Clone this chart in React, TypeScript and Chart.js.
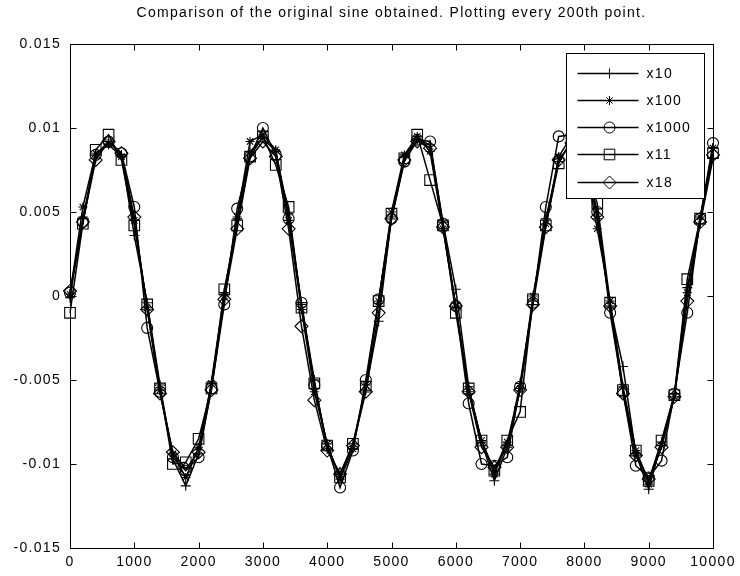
import React, { useEffect, useRef } from "react";
import { Chart, registerables } from "chart.js";

Chart.register(...registerables);

const TITLE = "Comparison of the original sine obtained. Plotting every 200th point.";

const X_VALUES = [
  0, 200, 400, 600, 800, 1000, 1200, 1400, 1600, 1800,
  2000, 2200, 2400, 2600, 2800, 3000, 3200, 3400, 3600, 3800,
  4000, 4200, 4400, 4600, 4800, 5000, 5200, 5400, 5600, 5800,
  6000, 6200, 6400, 6600, 6800, 7000, 7200, 7400, 7600, 7800,
  8000, 8200, 8400, 8600, 8800, 9000, 9200, 9400, 9600, 9800,
  10000,
];

const SERIES_NAMES = ["x10", "x100", "x1000", "x11", "x18"];
const POINT_STYLES = ["cross", "star", "circle", "rect", "rectRot"];
const POINT_RADII = [5, 4.5, 5.5, 7.5, 6.5];

const X10 = [
  -0.0001, 0.0047, 0.0082, 0.0092, 0.0084, 0.0036, -0.0004, -0.0053, -0.0097, -0.0113,
  -0.0094, -0.0051, 0.0002, 0.0046, 0.0086, 0.0094, 0.0086, 0.0049, -0.0005, -0.0050,
  -0.0091, -0.0106, -0.0088, -0.0056, -0.0015, 0.0047, 0.0083, 0.0093, 0.0090, 0.0044,
  0.0004, -0.0054, -0.0087, -0.0110, -0.0090, -0.0052, -0.0003, 0.0046, 0.0080, 0.0092,
  0.0085, 0.0046, -0.0006, -0.0042, -0.0094, -0.0115, -0.0087, -0.0058, 0.0005, 0.0043,
  0.0082,
];

const X100 = [
  0.0001, 0.0053, 0.0085, 0.0090, 0.0083, 0.0045, -0.0007, -0.0056, -0.0094, -0.0108,
  -0.0090, -0.0052, 0.0000, 0.0047, 0.0092, 0.0096, 0.0087, 0.0045, -0.0008, -0.0057,
  -0.0088, -0.0109, -0.0091, -0.0053, -0.0003, 0.0050, 0.0084, 0.0095, 0.0086, 0.0040,
  -0.0006, -0.0057, -0.0086, -0.0106, -0.0087, -0.0055, 0.0000, 0.0043, 0.0083, 0.0095,
  0.0082, 0.0040, -0.0003, -0.0054, -0.0092, -0.0112, -0.0089, -0.0060, 0.0002, 0.0047,
  0.0088,
];

const X1000 = [
  0.0002, 0.0044, 0.0084, 0.0092, 0.0085, 0.0053, -0.0019, -0.0057, -0.0096, -0.0104,
  -0.0096, -0.0055, -0.0005, 0.0052, 0.0083, 0.0100, 0.0084, 0.0046, -0.0004, -0.0053,
  -0.0089, -0.0114, -0.0092, -0.0050, -0.0002, 0.0046, 0.0080, 0.0093, 0.0092, 0.0043,
  -0.0006, -0.0064, -0.0100, -0.0101, -0.0096, -0.0054, -0.0004, 0.0053, 0.0095, 0.0096,
  0.0084, 0.0050, -0.0010, -0.0057, -0.0101, -0.0108, -0.0098, -0.0058, -0.0010, 0.0046,
  0.0091,
];

const X11 = [
  -0.0010, 0.0043, 0.0087, 0.0096, 0.0081, 0.0042, -0.0005, -0.0055, -0.0100, -0.0099,
  -0.0085, -0.0055, 0.0004, 0.0042, 0.0083, 0.0095, 0.0078, 0.0053, -0.0007, -0.0052,
  -0.0089, -0.0108, -0.0088, -0.0054, -0.0003, 0.0049, 0.0082, 0.0096, 0.0069, 0.0042,
  -0.0010, -0.0055, -0.0086, -0.0104, -0.0086, -0.0069, -0.0002, 0.0042, 0.0079, 0.0093,
  0.0082, 0.0055, -0.0004, -0.0056, -0.0092, -0.0110, -0.0086, -0.0059, 0.0010, 0.0046,
  0.0085,
];

const X18 = [
  0.0003, 0.0044, 0.0081, 0.0092, 0.0085, 0.0047, -0.0008, -0.0058, -0.0093, -0.0103,
  -0.0093, -0.0056, -0.0002, 0.0040, 0.0082, 0.0092, 0.0083, 0.0040, -0.0018, -0.0062,
  -0.0092, -0.0106, -0.0089, -0.0057, -0.0010, 0.0046, 0.0081, 0.0092, 0.0088, 0.0041,
  -0.0006, -0.0057, -0.0090, -0.0102, -0.0090, -0.0056, -0.0005, 0.0041, 0.0081, 0.0091,
  0.0083, 0.0047, -0.0006, -0.0058, -0.0095, -0.0109, -0.0090, -0.0060, -0.0003, 0.0044,
  0.0084,
];

const SERIES_VALUES = [X10, X100, X1000, X11, X18];

const X_TICKS = [0, 1000, 2000, 3000, 4000, 5000, 6000, 7000, 8000, 9000, 10000];
const X_TICK_LABELS = ["0", "1000", "2000", "3000", "4000", "5000", "6000", "7000", "8000", "9000", "10000"];
const Y_TICKS = [-0.015, -0.01, -0.005, 0, 0.005, 0.01, 0.015];
const Y_TICK_LABELS = ["-0.015", "-0.01", "-0.005", "0", "0.005", "0.01", "0.015"];

const FONT_FAMILY = "'Liberation Sans', Arial, Helvetica, sans-serif";
const FONT_SIZE = 14;
const LETTER_SPACING = "1.3px";
const TICK_LEN = 6;

function drawMarker(ctx: CanvasRenderingContext2D, style: string, r: number, x: number, y: number) {
  ctx.beginPath();
  if (style === "cross") {
    ctx.moveTo(x - r, y); ctx.lineTo(x + r, y);
    ctx.moveTo(x, y - r); ctx.lineTo(x, y + r);
  } else if (style === "star") {
    const d = r * Math.SQRT1_2;
    ctx.moveTo(x - r, y); ctx.lineTo(x + r, y);
    ctx.moveTo(x, y - r); ctx.lineTo(x, y + r);
    ctx.moveTo(x - d, y - d); ctx.lineTo(x + d, y + d);
    ctx.moveTo(x - d, y + d); ctx.lineTo(x + d, y - d);
  } else if (style === "circle") {
    ctx.arc(x, y, r, 0, Math.PI * 2);
  } else if (style === "rect") {
    const s = r * Math.SQRT1_2;
    ctx.rect(x - s, y - s, 2 * s, 2 * s);
  } else if (style === "rectRot") {
    ctx.moveTo(x, y - r); ctx.lineTo(x + r, y); ctx.lineTo(x, y + r); ctx.lineTo(x - r, y); ctx.closePath();
  }
  ctx.stroke();
}

const framePlugin = {
  id: "matlabFrame",
  beforeDraw(chart: any) {
    const ctx = chart.ctx as any;
    ctx.save();
    ctx.fillStyle = "#ffffff";
    ctx.fillRect(0, 0, chart.width, chart.height);
    ctx.restore();
    ctx.letterSpacing = LETTER_SPACING;
  },
  afterDatasetsDraw(chart: any) {
    const ctx = chart.ctx as CanvasRenderingContext2D;
    const a = chart.chartArea;
    const xs = chart.scales.x;
    const ys = chart.scales.y;
    const L = Math.round(a.left) + 0.5;
    const R = Math.round(a.right) + 0.5;
    const T = Math.round(a.top) + 0.5;
    const B = Math.round(a.bottom) + 0.5;
    ctx.save();
    ctx.strokeStyle = "#000";
    ctx.lineWidth = 1;
    ctx.beginPath();
    ctx.rect(L, T, R - L, B - T);
    for (const v of X_TICKS) {
      const px = Math.round(xs.getPixelForValue(v)) + 0.5;
      ctx.moveTo(px, B); ctx.lineTo(px, B - TICK_LEN);
      ctx.moveTo(px, T); ctx.lineTo(px, T + TICK_LEN);
    }
    for (const v of Y_TICKS) {
      const py = Math.round(ys.getPixelForValue(v)) + 0.5;
      ctx.moveTo(L, py); ctx.lineTo(L + TICK_LEN, py);
      ctx.moveTo(R, py); ctx.lineTo(R - TICK_LEN, py);
    }
    ctx.stroke();

    // legend
    const boxW = 138;
    const boxH = 145;
    const bx = Math.round(a.right) - 9 - boxW + 0.5;
    const by = Math.round(a.top) + 9 + 0.5;
    ctx.fillStyle = "#ffffff";
    ctx.fillRect(bx, by, boxW, boxH);
    ctx.strokeRect(bx, by, boxW, boxH);
    (ctx as any).letterSpacing = LETTER_SPACING;
    ctx.font = `${FONT_SIZE}px ${FONT_FAMILY}`;
    ctx.textBaseline = "middle";
    ctx.textAlign = "left";
    for (let i = 0; i < SERIES_NAMES.length; i++) {
      const ry = Math.round(by + 19 + i * 27.3) + 0.5;
      ctx.lineWidth = 1.3;
      ctx.beginPath();
      ctx.moveTo(bx + 11, ry);
      ctx.lineTo(bx + 72, ry);
      ctx.stroke();
      ctx.lineWidth = 1;
      drawMarker(ctx, POINT_STYLES[i], POINT_RADII[i], bx + 43, ry);
      ctx.fillStyle = "#000";
      ctx.fillText(SERIES_NAMES[i], bx + 80, ry + 1);
    }

    // title
    ctx.textAlign = "center";
    ctx.textBaseline = "alphabetic";
    ctx.fillText(TITLE, (a.left + a.right) / 2, 17);
    ctx.restore();
  },
};

export default function App() {
  const canvasRef = useRef<HTMLCanvasElement | null>(null);

  useEffect(() => {
    const canvas = canvasRef.current;
    if (!canvas) return;
    const datasets = SERIES_NAMES.map((name, i) => ({
      label: name,
      data: X_VALUES.map((x, j) => ({ x, y: SERIES_VALUES[i][j] })),
      borderColor: "#000000",
      borderWidth: 1.5,
      backgroundColor: "rgba(0,0,0,0)",
      pointStyle: POINT_STYLES[i] as any,
      pointRadius: POINT_RADII[i],
      pointHoverRadius: POINT_RADII[i],
      pointBorderColor: "#000000",
      pointBackgroundColor: "rgba(0,0,0,0)",
      pointBorderWidth: 1.1,
      tension: 0,
      fill: false,
      clip: false as any,
    }));

    const chart = new Chart(canvas, {
      type: "line",
      data: { datasets },
      options: {
        animation: false,
        responsive: false,
        devicePixelRatio: 1,
        events: [],
        layout: { padding: { top: 44, right: 27, left: 0, bottom: 0 } },
        plugins: {
          legend: { display: false },
          title: { display: false },
          tooltip: { enabled: false },
        },
        scales: {
          x: {
            type: "linear",
            min: 0,
            max: 10000,
            border: { display: false },
            grid: { display: false, drawTicks: false },
            afterBuildTicks: (scale: any) => {
              scale.ticks = X_TICKS.map((v) => ({ value: v }));
            },
            afterFit: (scale: any) => {
              scale.height = 28;
            },
            ticks: {
              autoSkip: false,
              maxRotation: 0,
              minRotation: 0,
              padding: 6,
              color: "#000",
              font: { family: FONT_FAMILY, size: FONT_SIZE },
              callback: (v: any) => {
                const k = X_TICKS.indexOf(Number(v));
                return k >= 0 ? X_TICK_LABELS[k] : "";
              },
            },
          },
          y: {
            type: "linear",
            min: -0.015,
            max: 0.015,
            border: { display: false },
            grid: { display: false, drawTicks: false },
            afterBuildTicks: (scale: any) => {
              scale.ticks = Y_TICKS.map((v) => ({ value: v }));
            },
            afterFit: (scale: any) => {
              scale.width = 70;
            },
            ticks: {
              autoSkip: false,
              padding: 9,
              color: "#000",
              font: { family: FONT_FAMILY, size: FONT_SIZE },
              callback: (v: any) => {
                const n = Number(v);
                const k = Y_TICKS.findIndex((t) => Math.abs(t - n) < 1e-9);
                return k >= 0 ? Y_TICK_LABELS[k] : "";
              },
            },
          },
        },
      },
      plugins: [framePlugin],
    });

    return () => {
      chart.destroy();
    };
  }, []);

  return (
    <div style={{ position: "absolute", left: 0, top: 0, width: 740, height: 576, background: "#fff" }}>
      <canvas ref={canvasRef} width={740} height={576} style={{ display: "block", width: 740, height: 576 }} />
    </div>
  );
}
